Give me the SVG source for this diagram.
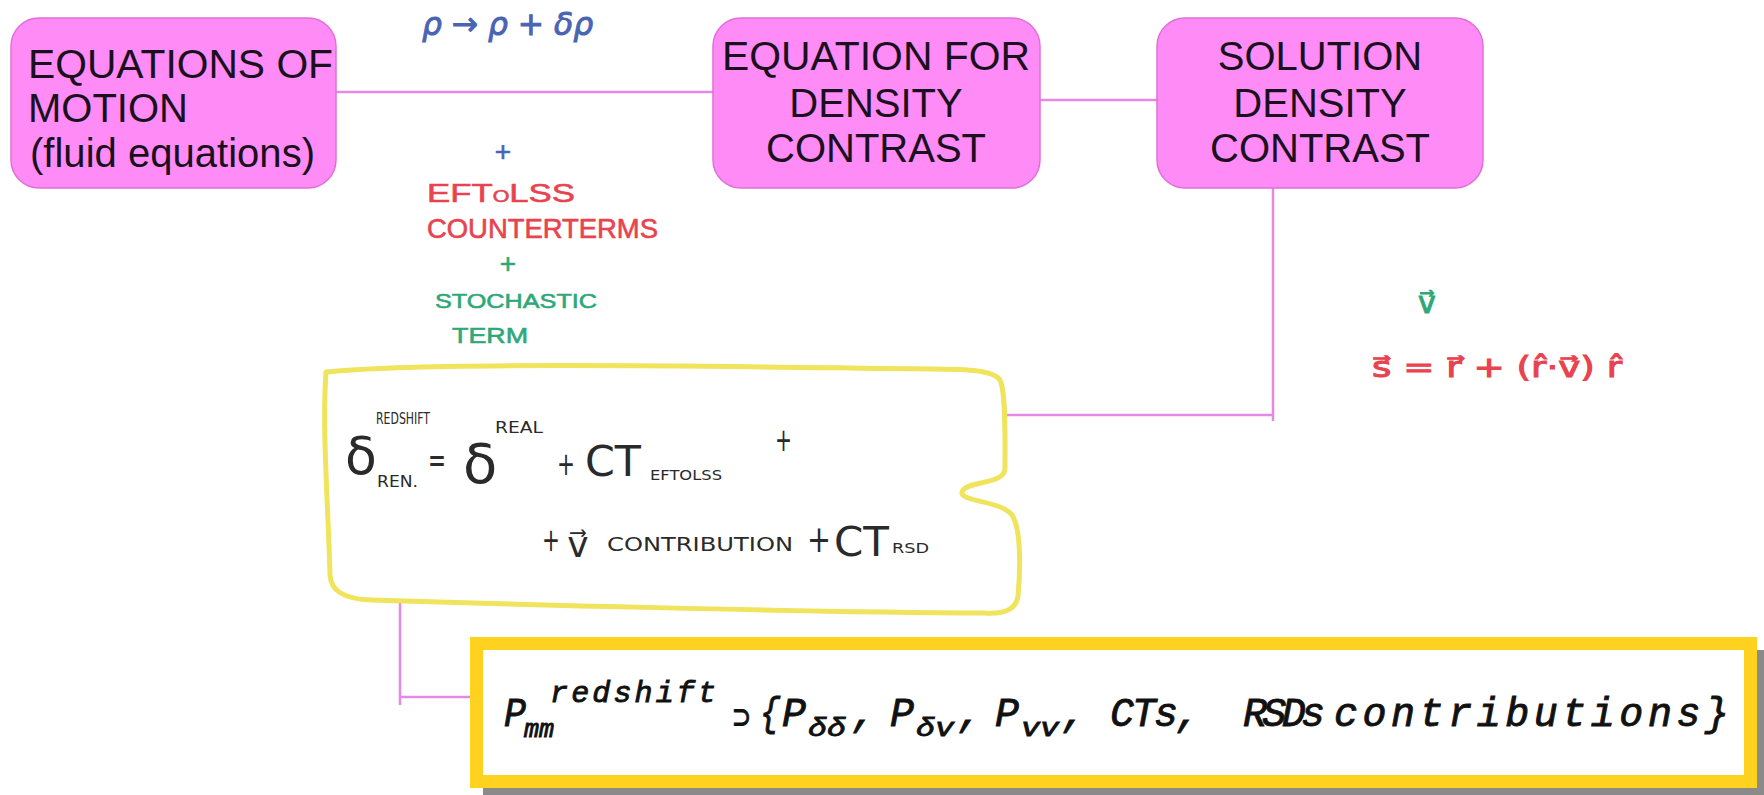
<svg xmlns="http://www.w3.org/2000/svg" width="1764" height="795" viewBox="0 0 1764 795">
<style>
.box{fill:#FF8CF6;stroke:#E070D8;stroke-width:1.5}
.bt{font-family:"Liberation Sans",Arial,sans-serif;font-size:40px;fill:#1a1020}
.conn{fill:none;stroke:#E48AE4;stroke-width:2.5}
.hw{font-family:"Liberation Sans",Arial,sans-serif;stroke-width:0.6}
.eq{font-family:"DejaVu Sans","Liberation Sans",sans-serif;fill:#2a2a2a}
.mono{font-family:"Liberation Mono","Courier New",monospace;font-style:italic;fill:#111;stroke:#111;stroke-width:0.9}
text.blue{fill:#4A64B4;stroke:#4A64B4}
text.red{fill:#E8434F;stroke:#E8434F}
text.green{fill:#2EA878;stroke:#2EA878}
</style>
<rect width="1764" height="795" fill="#ffffff"/>

<g id="connectors">
<line class="conn" x1="336" y1="92" x2="713" y2="92"/>
<line class="conn" x1="1040" y1="100" x2="1157" y2="100"/>
<line class="conn" x1="1273" y1="188" x2="1273" y2="421"/>
<line class="conn" x1="988" y1="415" x2="1273" y2="415"/>
<line class="conn" x1="400" y1="602" x2="400" y2="705"/>
<line class="conn" x1="400" y1="697" x2="470" y2="697"/>
</g>

<g id="node-eom">
<rect class="box" x="11" y="18" width="325" height="170" rx="28"/>
<text class="bt" x="28" y="78" textLength="305" lengthAdjust="spacingAndGlyphs">EQUATIONS OF</text>
<text class="bt" x="28" y="122">MOTION</text>
<text class="bt" x="30" y="167" textLength="285" lengthAdjust="spacingAndGlyphs">(fluid equations)</text>
</g>

<g id="node-eq-density">
<rect class="box" x="713" y="18" width="327" height="170" rx="28"/>
<text class="bt" x="876" y="70" text-anchor="middle" textLength="308" lengthAdjust="spacingAndGlyphs">EQUATION FOR</text>
<text class="bt" x="876" y="117" text-anchor="middle">DENSITY</text>
<text class="bt" x="876" y="162" text-anchor="middle">CONTRAST</text>
</g>

<g id="node-solution">
<rect class="box" x="1157" y="18" width="326" height="170" rx="28"/>
<text class="bt" x="1320" y="70" text-anchor="middle">SOLUTION</text>
<text class="bt" x="1320" y="117" text-anchor="middle">DENSITY</text>
<text class="bt" x="1320" y="162" text-anchor="middle">CONTRAST</text>
</g>

<g id="notes">
<text class="eq blue" x="422" y="35" font-size="32" font-style="italic" textLength="171" lengthAdjust="spacingAndGlyphs">ρ → ρ + δρ</text>
<text class="hw blue" x="503" y="161" font-size="28" text-anchor="middle">+</text>
<text class="hw red" x="427" y="202" font-size="26" textLength="148" lengthAdjust="spacingAndGlyphs">EFT<tspan font-size="16">O</tspan>LSS</text>
<text class="hw red" x="427" y="238" font-size="27" textLength="231" lengthAdjust="spacingAndGlyphs">COUNTERTERMS</text>
<text class="hw green" x="508" y="273" font-size="28" text-anchor="middle">+</text>
<text class="hw green" x="435" y="308" font-size="21" textLength="162" lengthAdjust="spacingAndGlyphs">STOCHASTIC</text>
<text class="hw green" x="452" y="343" font-size="22" textLength="76" lengthAdjust="spacingAndGlyphs">TERM</text>
<text class="eq green" x="1427" y="313" font-size="30" text-anchor="middle">v⃗</text>
<text class="eq red" x="1372" y="377" font-size="28" textLength="250" lengthAdjust="spacingAndGlyphs">s⃗ = r⃗ + (r̂·v⃗) r̂</text>
</g>

<g id="node-delta">
<path d="M326,372 C420,362 700,366 850,368 C950,370 990,366 1000,380 C1006,392 1005,440 1005,468 C1005,486 965,480 962,492 C960,502 1000,500 1012,515 C1022,530 1020,575 1018,596 C1016,612 1000,614 985,613 C800,612 500,604 372,600 C342,599 331,590 330,575 C328,500 322,430 326,372 Z" fill="#ffffff" stroke="#EFE45C" stroke-width="5" stroke-linejoin="round"/>
<text class="eq" x="345" y="474" font-size="52">δ</text>
<text class="eq" x="376" y="424" font-size="15" textLength="54" lengthAdjust="spacingAndGlyphs">REDSHIFT</text>
<text class="eq" x="377" y="487" font-size="15" textLength="41" lengthAdjust="spacingAndGlyphs">REN.</text>
<text class="eq" x="428" y="472" font-size="36" textLength="18" lengthAdjust="spacingAndGlyphs">=</text>
<text class="eq" x="463" y="483" font-size="56">δ</text>
<text class="eq" x="495" y="433" font-size="15" textLength="48" lengthAdjust="spacingAndGlyphs">REAL</text>
<text class="eq" x="557" y="475" font-size="32" textLength="18" lengthAdjust="spacingAndGlyphs">+</text>
<text class="eq" x="585" y="476" font-size="42" textLength="56" lengthAdjust="spacingAndGlyphs">CT</text>
<text class="eq" x="650" y="480" font-size="14" textLength="72" lengthAdjust="spacingAndGlyphs">EFTOLSS</text>
<text class="eq" x="775" y="451" font-size="32" textLength="17" lengthAdjust="spacingAndGlyphs">+</text>
<text class="eq" x="542" y="551" font-size="32" textLength="18" lengthAdjust="spacingAndGlyphs">+</text>
<text class="eq" x="578" y="557" font-size="36" text-anchor="middle">v⃗</text>
<text class="eq" x="607" y="551" font-size="20" textLength="186" lengthAdjust="spacingAndGlyphs">CONTRIBUTION</text>
<text class="eq" x="807" y="552" font-size="38" textLength="24" lengthAdjust="spacingAndGlyphs">+</text>
<text class="eq" x="834" y="556" font-size="40" textLength="55" lengthAdjust="spacingAndGlyphs">CT</text>
<text class="eq" x="892" y="553" font-size="14" textLength="37" lengthAdjust="spacingAndGlyphs">RSD</text>
</g>

<g id="node-pmm">
<rect x="483" y="650" width="1281" height="145" fill="#8a8a8a"/>
<rect x="476.5" y="643.5" width="1274" height="138" fill="#ffffff" stroke="#FFD21F" stroke-width="13"/>
<text class="mono" x="504" y="726" font-size="40" textLength="22" lengthAdjust="spacingAndGlyphs">P</text>
<text class="mono" x="524" y="737" font-size="26" textLength="30" lengthAdjust="spacingAndGlyphs">mm</text>
<text class="mono" x="550" y="702" font-size="30" textLength="166" lengthAdjust="spacing">redshift</text>
<text class="mono" x="733" y="728" font-size="34" textLength="17" lengthAdjust="spacingAndGlyphs">⊃</text>
<text class="mono" x="760" y="726" font-size="40" textLength="20" lengthAdjust="spacingAndGlyphs">{</text>
<text class="mono" x="782" y="726" font-size="40" textLength="24" lengthAdjust="spacingAndGlyphs">P</text>
<text class="mono" x="808" y="736" font-size="26" textLength="38" lengthAdjust="spacingAndGlyphs">δδ</text>
<text class="mono" x="852" y="726" font-size="40">,</text>
<text class="mono" x="890" y="726" font-size="40" textLength="24" lengthAdjust="spacingAndGlyphs">P</text>
<text class="mono" x="916" y="736" font-size="26" textLength="38" lengthAdjust="spacingAndGlyphs">δv</text>
<text class="mono" x="958" y="726" font-size="40">,</text>
<text class="mono" x="995" y="726" font-size="40" textLength="24" lengthAdjust="spacingAndGlyphs">P</text>
<text class="mono" x="1021" y="736" font-size="26" textLength="38" lengthAdjust="spacingAndGlyphs">vv</text>
<text class="mono" x="1062" y="726" font-size="40">,</text>
<text class="mono" x="1110" y="726" font-size="40" textLength="90" lengthAdjust="spacing">CTs,</text>
<text class="mono" x="1243" y="726" font-size="40" textLength="82" lengthAdjust="spacing">RSDs</text>
<text class="mono" x="1334" y="726" font-size="40" textLength="395" lengthAdjust="spacing">contributions}</text>
</g>
</svg>
